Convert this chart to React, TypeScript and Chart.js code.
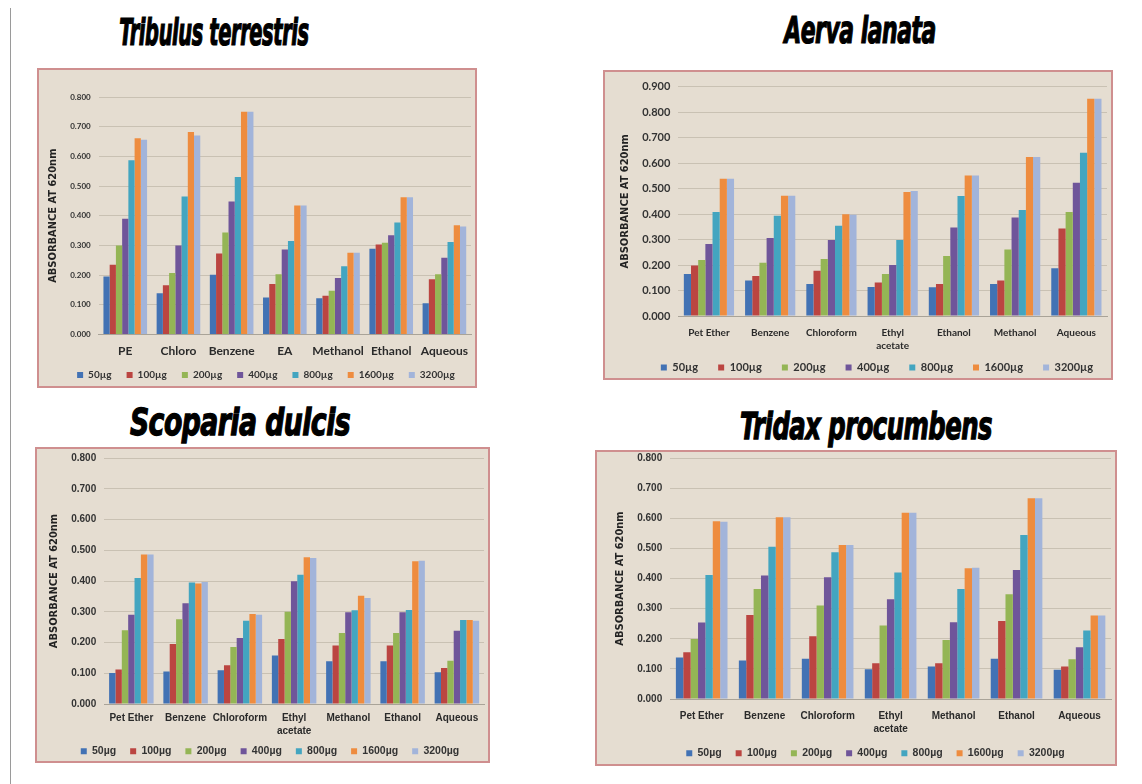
import React, { useEffect, useRef } from "react";
import { Chart, registerables } from "chart.js";
Chart.register(...registerables);

const doses = ["50µg", "100µg", "200µg", "400µg", "800µg", "1600µg", "3200µg"];
const doseColors = ["#4272b4", "#bb4541", "#94b555", "#6f559a", "#43a5c0", "#ee8c3f", "#a2b4da"];

// Tribulus terrestris
const tribulusCats = ["PE", "Chloro", "Benzene", "EA", "Methanol", "Ethanol", "Aqueous"];
const tri50 = [0.195, 0.139, 0.201, 0.124, 0.122, 0.289, 0.105];
const tri100 = [0.235, 0.166, 0.273, 0.17, 0.13, 0.303, 0.186];
const tri200 = [0.3, 0.207, 0.343, 0.203, 0.147, 0.309, 0.203];
const tri400 = [0.39, 0.3, 0.448, 0.286, 0.19, 0.334, 0.258];
const tri800 = [0.587, 0.465, 0.53, 0.315, 0.23, 0.377, 0.311];
const tri1600 = [0.661, 0.682, 0.75, 0.434, 0.275, 0.462, 0.368];
const tri3200 = [0.656, 0.67, 0.75, 0.434, 0.275, 0.462, 0.364];

// Aerva lanata
const aervaCats = ["Pet Ether", "Benzene", "Chloroform", ["Ethyl", "acetate"], "Ethanol", "Methanol", "Aqueous"];
const aer50 = [0.165, 0.139, 0.126, 0.114, 0.113, 0.126, 0.187];
const aer100 = [0.198, 0.157, 0.178, 0.131, 0.126, 0.139, 0.343];
const aer200 = [0.22, 0.209, 0.224, 0.165, 0.235, 0.261, 0.408];
const aer400 = [0.282, 0.306, 0.298, 0.2, 0.347, 0.386, 0.523];
const aer800 = [0.408, 0.393, 0.354, 0.298, 0.471, 0.416, 0.64];
const aer1600 = [0.538, 0.472, 0.399, 0.486, 0.551, 0.624, 0.852];
const aer3200 = [0.538, 0.472, 0.397, 0.49, 0.551, 0.624, 0.852];

// Scoparia dulcis
const scopariaCats = ["Pet Ether", "Benzene", "Chloroform", ["Ethyl", "acetate"], "Methanol", "Ethanol", "Aqueous"];
const sco50 = [0.101, 0.106, 0.11, 0.158, 0.139, 0.139, 0.103];
const sco100 = [0.112, 0.195, 0.126, 0.211, 0.19, 0.19, 0.117];
const sco200 = [0.24, 0.276, 0.185, 0.3, 0.231, 0.231, 0.141];
const sco400 = [0.29, 0.328, 0.215, 0.399, 0.298, 0.298, 0.238];
const sco800 = [0.41, 0.395, 0.271, 0.42, 0.305, 0.306, 0.273];
const sco1600 = [0.486, 0.392, 0.293, 0.477, 0.352, 0.464, 0.273];
const sco3200 = [0.486, 0.397, 0.29, 0.475, 0.345, 0.466, 0.271];

// Tridax procumbens
const tridaxCats = ["Pet Ether", "Benzene", "Chloroform", ["Ethyl", "acetate"], "Methanol", "Ethanol", "Aqueous"];
const trx50 = [0.138, 0.128, 0.134, 0.099, 0.108, 0.134, 0.097];
const trx100 = [0.155, 0.279, 0.208, 0.119, 0.119, 0.259, 0.108];
const trx200 = [0.199, 0.365, 0.31, 0.244, 0.196, 0.348, 0.132];
const trx400 = [0.254, 0.41, 0.404, 0.331, 0.255, 0.428, 0.172];
const trx800 = [0.412, 0.505, 0.487, 0.42, 0.365, 0.544, 0.227];
const trx1600 = [0.59, 0.603, 0.511, 0.618, 0.434, 0.666, 0.277];
const trx3200 = [0.588, 0.603, 0.511, 0.618, 0.436, 0.666, 0.277];

const yTitle = "ABSORBANCE AT 620nm";

const legendShift = {
  id: "legendShift",
  afterLayout(chart: any, _args: any, opts: any) {
    const lg = chart.legend;
    if (!lg) return;
    const dx = (opts && opts.dx) || 0;
    const dy = (opts && opts.dy) || 0;
    lg.top += dy;
    lg.bottom = Math.max(lg.bottom + dy, lg.top + 60);
    lg.height = lg.bottom - lg.top;
    lg.left += dx;
    lg.right += dx;
  },
};

type PanelProps = {
  left: number;
  top: number;
  width: number;
  height: number;
  oy: number;
  cats: any[];
  series: number[][];
  yMax: number;
  tickSize: number;
  xSize: number;
  xPad: number;
  legendSize: number;
  legendPad: number;
  legendMaxH: number;
  ldx: number;
  ldy: number;
  pad: { left: number; right: number; top: number; bottom: number };
  family: string;
};

function Panel(p: PanelProps) {
  const ref = useRef<HTMLCanvasElement>(null);
  useEffect(() => {
    const chart = new Chart(ref.current!, {
      type: "bar",
      data: {
        labels: p.cats,
        datasets: p.series.map((d, i) => ({
          label: doses[i],
          data: d,
          backgroundColor: doseColors[i],
          borderWidth: 0,
          categoryPercentage: 0.82,
          barPercentage: 1.0,
        })),
      },
      plugins: [legendShift],
      options: {
        animation: false,
        responsive: false,
        layout: { padding: p.pad },
        plugins: {
          tooltip: { enabled: false },
          legendShift: { dx: p.ldx, dy: p.ldy },
          legend: {
            position: "bottom",
            maxHeight: p.legendMaxH,
            labels: {
              boxWidth: 6,
              boxHeight: 6,
              padding: p.legendPad,
              color: "#333",
              font: { family: p.family, size: p.legendSize, weight: "bold" },
            },
          },
        } as any,
        scales: {
          x: {
            grid: { display: false },
            border: { color: "#a9a398" },
            ticks: {
              color: "#2a2a2a",
              maxRotation: 0,
              autoSkip: false,
              padding: p.xPad,
              font: { family: p.family, size: p.xSize, weight: "bold", lineHeight: 1.3 },
            },
          },
          y: {
            min: 0,
            max: p.yMax,
            grid: { color: "#c9c1b3", drawTicks: false },
            border: { display: false },
            ticks: {
              stepSize: 0.1,
              padding: 8,
              color: "#333",
              font: { family: p.family, size: p.tickSize, weight: "bold" },
              callback: (v: any) => Number(v).toFixed(3),
            },
            title: {
              display: true,
              text: yTitle,
              color: "#222",
              padding: 2,
              font: { family: "'Liberation Sans Narrow', 'DejaVu Sans Condensed', sans-serif", size: 11, weight: "bold" },
            },
          },
        },
      },
    });
    return () => chart.destroy();
  }, []);
  return (
    <div
      style={{
        position: "absolute",
        left: p.left,
        top: p.top,
        width: p.width,
        height: p.height,
        background: "#e5ddd1",
        border: "2px solid #cf8f8f",
        boxSizing: "border-box",
        overflow: "hidden",
      }}
    >
      <canvas
        ref={ref}
        width={p.width - 4}
        height={p.height - 4 + p.oy}
        style={{ display: "block", marginTop: -p.oy }}
      />
    </div>
  );
}

function Title({ text, cx, cy, sx, sy }: { text: string; cx: number; cy: number; sx: number; sy: number }) {
  return (
    <div
      style={{
        position: "absolute",
        left: cx - 200,
        top: cy - 20,
        width: 400,
        height: 40,
        lineHeight: "40px",
        textAlign: "center",
        fontFamily: "'Liberation Sans Narrow', 'DejaVu Sans Condensed', sans-serif",
        fontWeight: "bold",
        fontStyle: "italic",
        fontSize: 27,
        color: "#000",
        WebkitTextStroke: "0.9px #000",
        transform: `scale(${sx}, ${sy})`,
        letterSpacing: "-0.5px",
      }}
    >
      {text}
    </div>
  );
}

export default function App() {
  return (
    <div style={{ position: "absolute", left: 0, top: 0, width: 1142, height: 784, background: "#fff", overflow: "hidden" }}>
      <div style={{ position: "absolute", left: 10, top: 8, width: 1, height: 776, background: "#9a9a9a" }} />
      <Title text="Tribulus terrestris" cx={214} cy={33} sx={0.8} sy={1.35} />
      <Title text="Aerva lanata" cx={860} cy={31} sx={0.9} sy={1.35} />
      <Title text="Scoparia dulcis" cx={240} cy={422} sx={1.1} sy={1.4} />
      <Title text="Tridax procumbens" cx={866} cy={426} sx={1.0} sy={1.4} />
      <Panel
        left={37} top={68} width={440} height={320} oy={0}
        cats={tribulusCats}
        series={[tri50, tri100, tri200, tri400, tri800, tri1600, tri3200]}
        yMax={0.8} tickSize={8} xSize={12} xPad={1}
        legendSize={10} legendPad={15} legendMaxH={32} ldx={8} ldy={-5}
        pad={{ left: 6, right: 4, top: 27, bottom: -6 }}
        family="Lato, 'Liberation Sans', sans-serif"
      />
      <Panel
        left={603} top={70} width={510} height={310} oy={0}
        cats={aervaCats}
        series={[aer50, aer100, aer200, aer400, aer800, aer1600, aer3200]}
        yMax={0.9} tickSize={11} xSize={10} xPad={2}
        legendSize={11} legendPad={20} legendMaxH={30} ldx={15} ldy={-12}
        pad={{ left: 12, right: 4, top: 10, bottom: -6 }}
        family="Lato, 'Liberation Sans', sans-serif"
      />
      <Panel
        left={35} top={447} width={455} height={316} oy={5}
        cats={scopariaCats}
        series={[sco50, sco100, sco200, sco400, sco800, sco1600, sco3200]}
        yMax={0.8} tickSize={10} xSize={10} xPad={0}
        legendSize={10.5} legendPad={14} legendMaxH={28} ldx={5} ldy={-6}
        pad={{ left: 9, right: 4, top: 0, bottom: -5 }}
        family="'Liberation Sans', Arial, sans-serif"
      />
      <Panel
        left={595} top={450} width={522} height={316} oy={8}
        cats={tridaxCats}
        series={[trx50, trx100, trx200, trx400, trx800, trx1600, trx3200]}
        yMax={0.8} tickSize={10} xSize={10} xPad={3}
        legendSize={10.5} legendPad={14} legendMaxH={30} ldx={14} ldy={-5}
        pad={{ left: 15, right: 4, top: 0, bottom: -5 }}
        family="'Liberation Sans', Arial, sans-serif"
      />
    </div>
  );
}
